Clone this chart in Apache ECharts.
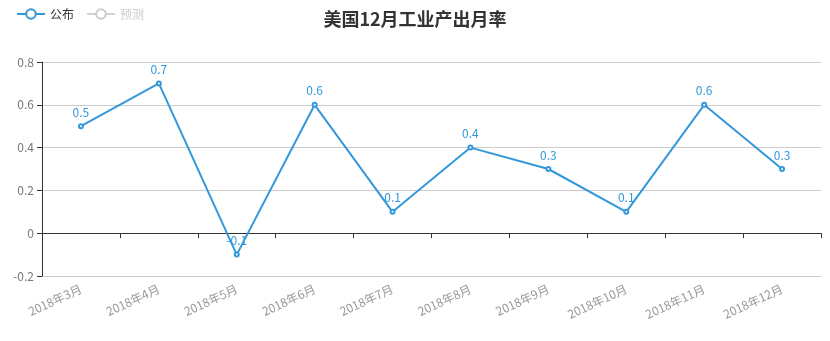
<!DOCTYPE html>
<html><head><meta charset="utf-8">
<script src="https://cdn.jsdelivr.net/npm/echarts@6/dist/echarts.min.js"></script>
<style>html,body{margin:0;padding:0;background:#fff}#c{width:830px;height:341px}</style>
</head><body><div id="c"></div>
<script>
var categories = ['2018年3月','2018年4月','2018年5月','2018年6月','2018年7月','2018年8月','2018年9月','2018年10月','2018年11月','2018年12月'];
var published = [0.5, 0.7, -0.1, 0.6, 0.1, 0.4, 0.3, 0.1, 0.6, 0.3];
var forecast = [];
var yTicks = {min: -0.2, max: 0.8, interval: 0.2};
var font = '"Noto Sans CJK SC", "Microsoft YaHei", sans-serif';
var chart = echarts.init(document.getElementById('c'), null, {renderer: 'canvas'});
chart.setOption({
  animation: false,
  textStyle: {fontFamily: font},
  title: {text: '美国12月工业产出月率', left: 'center', top: 5,
    textStyle: {fontSize: 18, fontWeight: 'bold', color: '#333', fontFamily: font}},
  legend: {left: 11, top: 3, itemWidth: 28, itemHeight: 12, itemGap: 12,
    data: ['公布', '预测'], selected: {'公布': true, '预测': false},
    textStyle: {fontSize: 12, color: '#333', fontFamily: font}, inactiveColor: '#ccc'},
  grid: {left: 42, right: 9, top: 62, bottom: 65},
  xAxis: [{
    type: 'category', data: categories, boundaryGap: true,
    axisLine: {onZero: true, lineStyle: {color: '#333', width: 1}},
    axisTick: {show: true, interval: 0, length: 5, lineStyle: {color: '#333'}},
    axisLabel: {show: false}, splitLine: {show: false}
  }, {
    type: 'category', data: categories, boundaryGap: true, position: 'bottom',
    axisLine: {show: false, onZero: false}, axisTick: {show: false},
    axisLabel: {show: true, interval: 0, rotate: 25, margin: 12, color: '#999', fontSize: 12, fontFamily: font},
    splitLine: {show: false}
  }],
  yAxis: {
    type: 'value', min: yTicks.min, max: yTicks.max, interval: yTicks.interval,
    axisLine: {show: true, lineStyle: {color: '#333'}},
    axisTick: {show: true, length: 5, lineStyle: {color: '#333'}},
    axisLabel: {color: '#777', fontSize: 12, margin: 8, fontFamily: font},
    splitLine: {show: true, lineStyle: {color: '#ccc'}}
  },
  series: [{
    name: '公布', type: 'line', data: published, xAxisIndex: 0,
    symbol: 'emptyCircle', symbolSize: 4,
    itemStyle: {color: '#3398DB'}, lineStyle: {color: '#3398DB', width: 2},
    label: {show: true, position: 'top', color: '#3398DB', fontSize: 12, fontFamily: font}
  }, {
    name: '预测', type: 'line', data: forecast, xAxisIndex: 0,
    symbol: 'emptyCircle', symbolSize: 4,
    itemStyle: {color: '#aaa'}, lineStyle: {color: '#aaa', width: 2}
  }]
});
</script></body></html>
